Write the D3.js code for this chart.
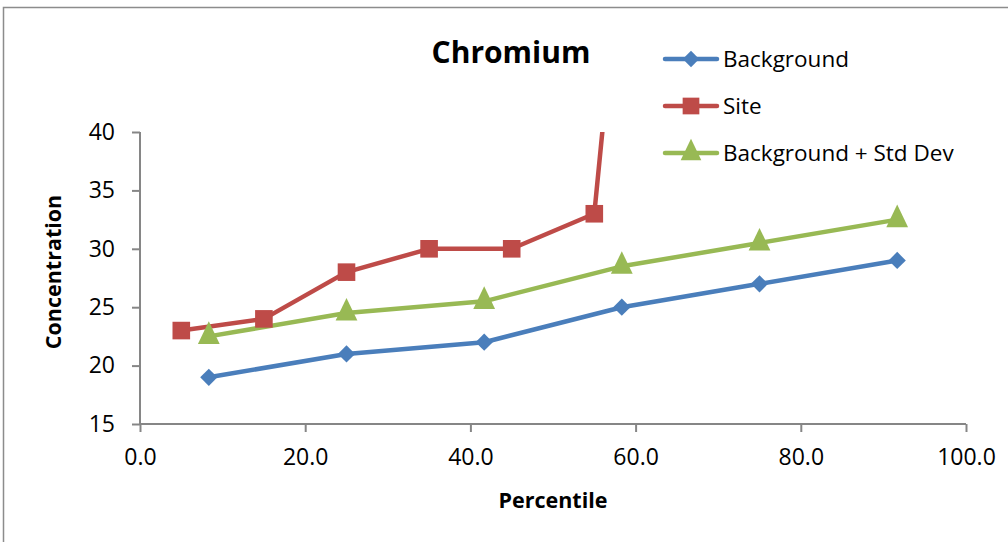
<!DOCTYPE html>
<html><head><meta charset="utf-8">
<script src="https://cdn.jsdelivr.net/npm/d3@7/dist/d3.min.js"></script>
<style>body{margin:0;background:#fff;}svg{display:block;font-family:"Open Sans",sans-serif;}</style>
</head><body>
<svg id="c" width="1008" height="542"></svg>
<script>
const bgPct = [8.33, 25, 41.67, 58.33, 75, 91.67];
const bgVals = [19, 21, 22, 25, 27, 29];
const bgSdVals = [22.5, 24.5, 25.5, 28.5, 30.5, 32.5];
const sitePct = [5, 15, 25, 35, 45, 55, 65];
const siteVals = [23, 24, 28, 30, 30, 33, 105];
const xTicks = [0, 20, 40, 60, 80, 100];
const yTicks = [15, 20, 25, 30, 35, 40];
const seriesNames = ["Background", "Site", "Background + Std Dev"];
const colors = ["#4A7EBB", "#BE4B48", "#98B954"];

const svg = d3.select("#c");
svg.append("rect").attr("x",3.5).attr("y",7.5).attr("width",1100).attr("height",600)
  .attr("fill","#fff").attr("stroke","#8c8c8c").attr("stroke-width",1.5);

const L=140, R=966, T=132, B=424;
const x = d3.scaleLinear().domain([0,100]).range([L,R]);
const y = d3.scaleLinear().domain([15,40]).range([B,T]);

svg.append("defs").append("clipPath").attr("id","clip")
  .append("rect").attr("x",L-20).attr("y",T).attr("width",R-L+40).attr("height",B-T+20);

// axes
const xa = svg.append("g").attr("transform",`translate(0,${B})`)
  .call(d3.axisBottom(x).tickValues(xTicks).tickFormat(d3.format(".1f")).tickSize(8).tickPadding(17));
const ya = svg.append("g").attr("transform",`translate(${L},0)`)
  .call(d3.axisLeft(y).tickValues(yTicks).tickSize(8).tickPadding(17));
[xa,ya].forEach(a=>{
  a.selectAll("path,line").attr("stroke","#868686").attr("stroke-width",2);
  a.select(".domain").attr("d", a===xa ? `M${L},0H${R}` : `M0,${T}V${B}`);
  a.selectAll("text").attr("font-size",23).attr("fill","#000").attr("font-family","'Open Sans',sans-serif");
});

const line = d3.line().x(d=>x(d[0])).y(d=>y(d[1]));
const series = [
  bgPct.map((p,i)=>[p,bgVals[i]]),
  sitePct.map((p,i)=>[p,siteVals[i]]),
  bgPct.map((p,i)=>[p,bgSdVals[i]])
];
const symbols = [d3.symbolDiamond2, d3.symbolSquare, d3.symbolTriangle];
const sizes = [190, 310, 205];
const g = svg.append("g").attr("clip-path","url(#clip)");
series.forEach((s,k)=>{
  g.append("path").datum(s).attr("d",line).attr("fill","none")
    .attr("stroke",colors[k]).attr("stroke-width",4.5).attr("stroke-linejoin","round");
});
series.forEach((s,k)=>{
  g.selectAll(null).data(s.filter(d=>d[1]<=40)).enter().append("path")
    .attr("d",d3.symbol().type(symbols[k]).size(sizes[k]))
    .attr("transform",d=>`translate(${x(d[0])},${y(d[1])}) scale(1,${k===2?1.2:1})`)
    .attr("fill",colors[k]);
});

// title
svg.append("text").attr("x",511).attr("y",63).attr("text-anchor","middle")
  .attr("font-size",30).attr("font-weight","bold").text("Chromium");

// legend
const ly = [59, 106, 153];
seriesNames.forEach((n,k)=>{
  svg.append("line").attr("x1",665).attr("x2",717).attr("y1",ly[k]).attr("y2",ly[k])
    .attr("stroke",colors[k]).attr("stroke-width",4.5).attr("stroke-linecap","round");
  svg.append("path").attr("d",d3.symbol().type(symbols[k]).size(sizes[k]*0.9))
    .attr("transform",`translate(691,${ly[k]}) scale(1,${k===2?1.2:1})`).attr("fill",colors[k]);
  svg.append("text").attr("x",723).attr("y",ly[k]+8).attr("font-size",22.5).text(n);
});

// axis titles
svg.append("text").attr("x",553).attr("y",508).attr("text-anchor","middle")
  .attr("font-size",21.5).attr("font-weight","bold").text("Percentile");
svg.append("text").attr("transform","translate(61,272) rotate(-90)").attr("text-anchor","middle")
  .attr("font-size",21.5).attr("font-weight","bold").text("Concentration");
</script>
</body></html>
